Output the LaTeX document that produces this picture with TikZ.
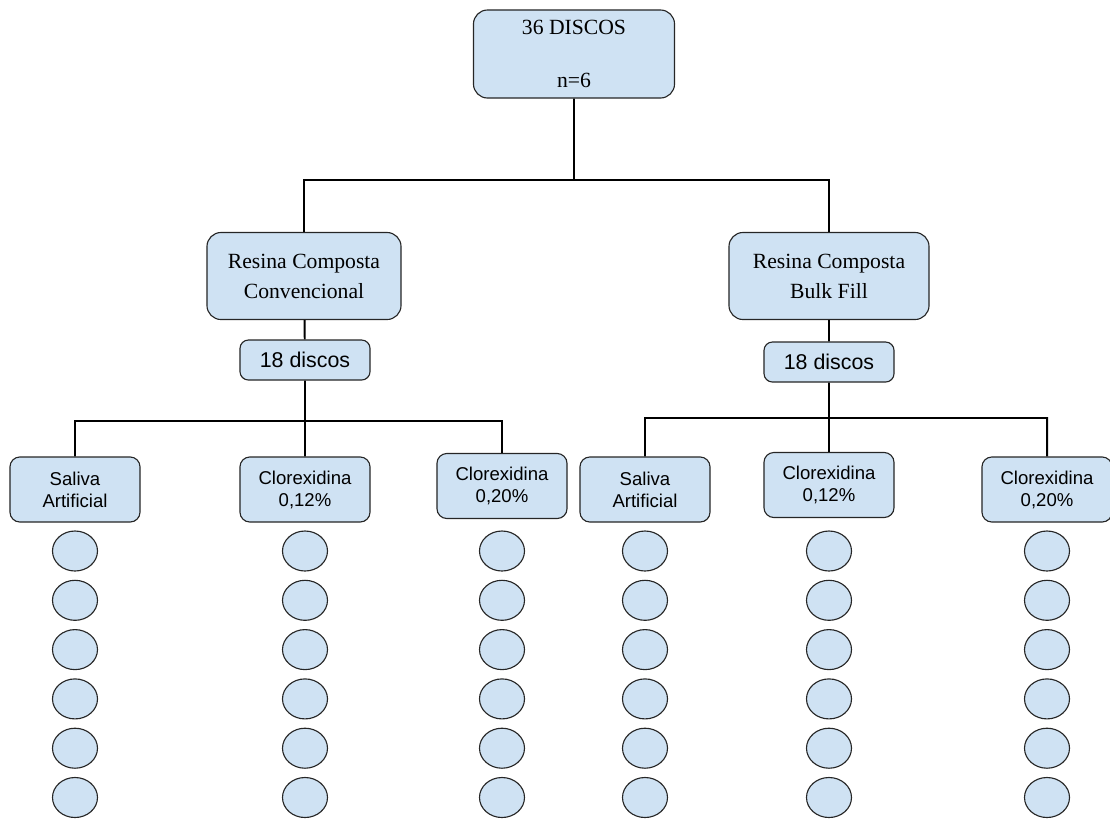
\documentclass[tikz,border=0pt]{standalone}
\usepackage{fontspec}
\setmainfont{Liberation Serif}
\setsansfont{Liberation Sans}
\usetikzlibrary{shapes.geometric}
\definecolor{discblue}{HTML}{CFE2F3}

\begin{document}
\begin{tikzpicture}[x=0.025cm, y=-0.025cm, line width=1.4pt]
        \tikzset{
           bigbox/.style={
                        rectangle,
                        rounded corners=10pt,
                        draw=black!85,
                        line width=0.8pt,
                        fill=discblue,
                        text=black,
                        align=center,
                        inner sep=0pt,
                        font=\fontsize{15.4}{21.3}\selectfont
                       },
           countbox/.style={
                        bigbox,
                        rounded corners=6pt,
                        minimum width=3.25cm,
                        minimum height=1cm,
                        font=\sffamily\fontsize{15.2}{18}\selectfont
                       },
           groupbox/.style={
                        bigbox,
                        rounded corners=7pt,
                        minimum width=3.25cm,
                        minimum height=1.625cm,
                        font=\sffamily\fontsize{13.2}{15.6}\selectfont
                       },
           disc/.style={
                        ellipse,
                        draw=black!85,
                        line width=0.8pt,
                        fill=discblue,
                        minimum width=1.125cm,
                        minimum height=1cm,
                        inner sep=0pt
                       },
                 };
        \useasboundingbox (0,0) rectangle (1110,818);
        %----------------
        \node[bigbox, minimum width=5.025cm, minimum height=2.2cm] (total) at (574,54) {36 DISCOS\\[16.8pt]n=6};
        \node[bigbox, minimum width=4.85cm, minimum height=2.175cm] (conv) at (304,276) {Resina Composta\\Convencional};
        \node[bigbox, minimum width=5cm, minimum height=2.175cm] (bulk) at (829,276) {Resina Composta\\Bulk Fill};
        \node[countbox] (convN) at (305,360) {18 discos};
        \node[countbox] (bulkN) at (829,362) {18 discos};
        %----------------
        \node[groupbox] (convSaliva) at (75,489.5) {Saliva\\Artificial};
        \node[groupbox] (convClor12) at (305,489.5) {Clorexidina\\0,12\%};
        \node[groupbox] (convClor20) at (502,486) {Clorexidina\\0,20\%};
        \node[groupbox] (bulkSaliva) at (645,489.5) {Saliva\\Artificial};
        \node[groupbox] (bulkClor12) at (829,485) {Clorexidina\\0,12\%};
        \node[groupbox] (bulkClor20) at (1047,489.5) {Clorexidina\\0,20\%};
        %----------------
        \foreach \grp/\x in {convSaliva/75, convClor12/305, convClor20/502, bulkSaliva/645, bulkClor12/829, bulkClor20/1047}
           \foreach \k in {0,...,5}
              \node[disc] (disc-\grp-\k) at (\x,{551+49.3*\k}) {};
        %----------------
        \coordinate (totalSplit) at (574,180);
        \coordinate (convSplit) at (305,421);
        \coordinate (bulkSplit) at (829,418);
        \draw (total) -- (totalSplit)
              (totalSplit) -| (conv)
              (totalSplit) -| (bulk)
              (conv) -- (convN)
              (convN) -- (convSplit)
              (convSplit) -| (convSaliva)
              (convSplit) -- (convClor12)
              (convSplit) -| (convClor20)
              (bulk) -- (bulkN)
              (bulkN) -- (bulkSplit)
              (bulkSplit) -| (bulkSaliva)
              (bulkSplit) -- (bulkClor12)
              (bulkSplit) -| (bulkClor20)
        ;
    \end{tikzpicture}
\end{document}
